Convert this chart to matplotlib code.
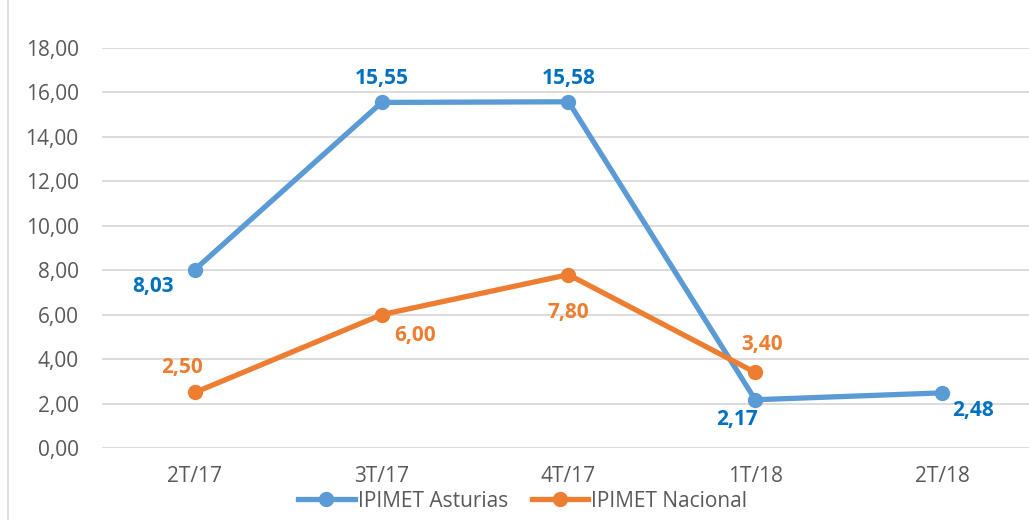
import matplotlib
matplotlib.use("Agg")
import matplotlib.pyplot as plt
from matplotlib.lines import Line2D

# chart data
quarters = ["2T/17", "3T/17", "4T/17", "1T/18", "2T/18"]
asturias = [8.03, 15.55, 15.58, 2.17, 2.48]
nacional = [2.50, 6.00, 7.80, 3.40]

blue = "#5B9BD5"
blue_txt = "#0070C0"
orange = "#ED7D31"

plt.rcParams["font.family"] = ["Open Sans", "DejaVu Sans"]

fig = plt.figure(figsize=(10.29, 5.2), dpi=100)
ax = fig.add_axes([0.0987, 0.1385, 0.9075, 0.7692])

x = list(range(len(quarters)))
ax.plot(x, asturias, color=blue, lw=3.8, marker="o", ms=10, solid_capstyle="round",
        label="IPIMET Asturias", zorder=3)
ax.plot(x[:len(nacional)], nacional, color=orange, lw=3.8, marker="o", ms=10,
        solid_capstyle="round", label="IPIMET Nacional", zorder=3)

# label offsets in points (dx, dy)
ast_off = [(-30, -12), (0, 17), (0, 17), (-13, -14), (22, -13)]
nac_off = [(-9, 18), (24, -15), (0, -27), (5, 20)]
for i, v in enumerate(asturias):
    dx, dy = ast_off[i]
    ax.annotate(f"{v:.2f}".replace(".", ","), (x[i], v), xytext=(dx, dy),
                textcoords="offset points", ha="center", va="center",
                color=blue_txt, fontsize=15, fontweight="bold")
for i, v in enumerate(nacional):
    dx, dy = nac_off[i]
    ax.annotate(f"{v:.2f}".replace(".", ","), (x[i], v), xytext=(dx, dy),
                textcoords="offset points", ha="center", va="center",
                color=orange, fontsize=15, fontweight="bold")

ax.set_xlim(-0.5, len(quarters) - 0.5)
ax.set_ylim(0, 18)
ax.set_yticks(range(0, 19, 2))
ax.set_yticklabels([f"{t:.2f}".replace(".", ",") for t in range(0, 19, 2)])
ax.set_xticks(x)
ax.set_xticklabels(quarters)
ax.tick_params(axis="both", length=0, labelsize=15, colors="#595959")
ax.tick_params(axis="x", pad=13)
ax.tick_params(axis="y", pad=16.5)
ax.grid(axis="y", color="#D9D9D9", lw=1.3)
ax.set_axisbelow(True)
for s in ax.spines.values():
    s.set_visible(False)

handles = [Line2D([], [], color=blue, lw=3.8, marker="o", ms=10),
           Line2D([], [], color=orange, lw=3.8, marker="o", ms=10)]
fig.legend(handles, ["IPIMET Asturias", "IPIMET Nacional"], loc="center",
           bbox_to_anchor=(0.508, 0.036), ncol=2, frameon=False, fontsize=15,
           handlelength=2.7, handletextpad=0.15, columnspacing=1.15,
           labelcolor="#595959", borderpad=0)

# chart border on the left
fig.add_artist(Line2D([0.008, 0.008], [0, 1], color="#D9D9D9", lw=1.2,
                      transform=fig.transFigure))

fig.savefig("out.png", dpi=100)
